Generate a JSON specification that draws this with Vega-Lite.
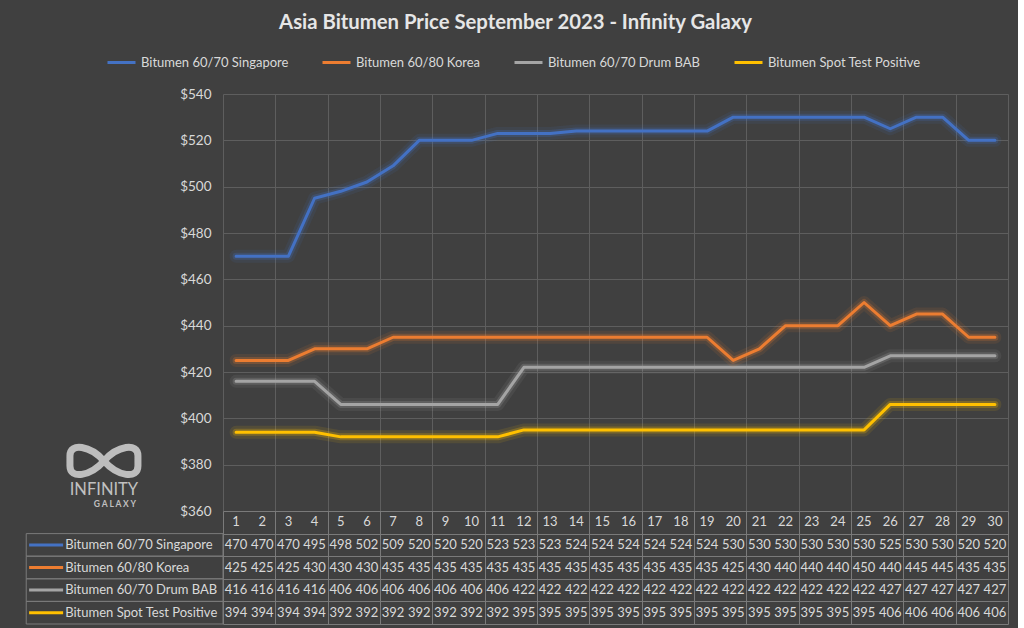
{
  "$schema": "https://vega.github.io/schema/vega-lite/v6.json",
  "background": "#404040",
  "padding": {"left": 23, "top": 12, "right": 10, "bottom": 4},
  "title": {"text": "Asia Bitumen Price September 2023 - Infinity Galaxy", "font": "Lato", "fontSize": 20.3, "fontWeight": "bold", "color": "#E6E6E6", "anchor": "middle", "offset": 14},
  "datasets": {
    "prices": [
      {"day": 1, "Bitumen 60/70 Singapore": 470, "Bitumen 60/80 Korea": 425, "Bitumen 60/70 Drum BAB": 416, "Bitumen Spot Test Positive": 394},
      {"day": 2, "Bitumen 60/70 Singapore": 470, "Bitumen 60/80 Korea": 425, "Bitumen 60/70 Drum BAB": 416, "Bitumen Spot Test Positive": 394},
      {"day": 3, "Bitumen 60/70 Singapore": 470, "Bitumen 60/80 Korea": 425, "Bitumen 60/70 Drum BAB": 416, "Bitumen Spot Test Positive": 394},
      {"day": 4, "Bitumen 60/70 Singapore": 495, "Bitumen 60/80 Korea": 430, "Bitumen 60/70 Drum BAB": 416, "Bitumen Spot Test Positive": 394},
      {"day": 5, "Bitumen 60/70 Singapore": 498, "Bitumen 60/80 Korea": 430, "Bitumen 60/70 Drum BAB": 406, "Bitumen Spot Test Positive": 392},
      {"day": 6, "Bitumen 60/70 Singapore": 502, "Bitumen 60/80 Korea": 430, "Bitumen 60/70 Drum BAB": 406, "Bitumen Spot Test Positive": 392},
      {"day": 7, "Bitumen 60/70 Singapore": 509, "Bitumen 60/80 Korea": 435, "Bitumen 60/70 Drum BAB": 406, "Bitumen Spot Test Positive": 392},
      {"day": 8, "Bitumen 60/70 Singapore": 520, "Bitumen 60/80 Korea": 435, "Bitumen 60/70 Drum BAB": 406, "Bitumen Spot Test Positive": 392},
      {"day": 9, "Bitumen 60/70 Singapore": 520, "Bitumen 60/80 Korea": 435, "Bitumen 60/70 Drum BAB": 406, "Bitumen Spot Test Positive": 392},
      {"day": 10, "Bitumen 60/70 Singapore": 520, "Bitumen 60/80 Korea": 435, "Bitumen 60/70 Drum BAB": 406, "Bitumen Spot Test Positive": 392},
      {"day": 11, "Bitumen 60/70 Singapore": 523, "Bitumen 60/80 Korea": 435, "Bitumen 60/70 Drum BAB": 406, "Bitumen Spot Test Positive": 392},
      {"day": 12, "Bitumen 60/70 Singapore": 523, "Bitumen 60/80 Korea": 435, "Bitumen 60/70 Drum BAB": 422, "Bitumen Spot Test Positive": 395},
      {"day": 13, "Bitumen 60/70 Singapore": 523, "Bitumen 60/80 Korea": 435, "Bitumen 60/70 Drum BAB": 422, "Bitumen Spot Test Positive": 395},
      {"day": 14, "Bitumen 60/70 Singapore": 524, "Bitumen 60/80 Korea": 435, "Bitumen 60/70 Drum BAB": 422, "Bitumen Spot Test Positive": 395},
      {"day": 15, "Bitumen 60/70 Singapore": 524, "Bitumen 60/80 Korea": 435, "Bitumen 60/70 Drum BAB": 422, "Bitumen Spot Test Positive": 395},
      {"day": 16, "Bitumen 60/70 Singapore": 524, "Bitumen 60/80 Korea": 435, "Bitumen 60/70 Drum BAB": 422, "Bitumen Spot Test Positive": 395},
      {"day": 17, "Bitumen 60/70 Singapore": 524, "Bitumen 60/80 Korea": 435, "Bitumen 60/70 Drum BAB": 422, "Bitumen Spot Test Positive": 395},
      {"day": 18, "Bitumen 60/70 Singapore": 524, "Bitumen 60/80 Korea": 435, "Bitumen 60/70 Drum BAB": 422, "Bitumen Spot Test Positive": 395},
      {"day": 19, "Bitumen 60/70 Singapore": 524, "Bitumen 60/80 Korea": 435, "Bitumen 60/70 Drum BAB": 422, "Bitumen Spot Test Positive": 395},
      {"day": 20, "Bitumen 60/70 Singapore": 530, "Bitumen 60/80 Korea": 425, "Bitumen 60/70 Drum BAB": 422, "Bitumen Spot Test Positive": 395},
      {"day": 21, "Bitumen 60/70 Singapore": 530, "Bitumen 60/80 Korea": 430, "Bitumen 60/70 Drum BAB": 422, "Bitumen Spot Test Positive": 395},
      {"day": 22, "Bitumen 60/70 Singapore": 530, "Bitumen 60/80 Korea": 440, "Bitumen 60/70 Drum BAB": 422, "Bitumen Spot Test Positive": 395},
      {"day": 23, "Bitumen 60/70 Singapore": 530, "Bitumen 60/80 Korea": 440, "Bitumen 60/70 Drum BAB": 422, "Bitumen Spot Test Positive": 395},
      {"day": 24, "Bitumen 60/70 Singapore": 530, "Bitumen 60/80 Korea": 440, "Bitumen 60/70 Drum BAB": 422, "Bitumen Spot Test Positive": 395},
      {"day": 25, "Bitumen 60/70 Singapore": 530, "Bitumen 60/80 Korea": 450, "Bitumen 60/70 Drum BAB": 422, "Bitumen Spot Test Positive": 395},
      {"day": 26, "Bitumen 60/70 Singapore": 525, "Bitumen 60/80 Korea": 440, "Bitumen 60/70 Drum BAB": 427, "Bitumen Spot Test Positive": 406},
      {"day": 27, "Bitumen 60/70 Singapore": 530, "Bitumen 60/80 Korea": 445, "Bitumen 60/70 Drum BAB": 427, "Bitumen Spot Test Positive": 406},
      {"day": 28, "Bitumen 60/70 Singapore": 530, "Bitumen 60/80 Korea": 445, "Bitumen 60/70 Drum BAB": 427, "Bitumen Spot Test Positive": 406},
      {"day": 29, "Bitumen 60/70 Singapore": 520, "Bitumen 60/80 Korea": 435, "Bitumen 60/70 Drum BAB": 427, "Bitumen Spot Test Positive": 406},
      {"day": 30, "Bitumen 60/70 Singapore": 520, "Bitumen 60/80 Korea": 435, "Bitumen 60/70 Drum BAB": 427, "Bitumen Spot Test Positive": 406}
    ]
  },
  "data": {"name": "prices"},
  "transform": [
    {"fold": ["Bitumen 60/70 Singapore", "Bitumen 60/80 Korea", "Bitumen 60/70 Drum BAB", "Bitumen Spot Test Positive"], "as": ["series", "price"]}
  ],
  "bounds": "flush",
  "spacing": 0,
  "vconcat": [
    {
      "width": 785,
      "height": 417,
      "layer": [
        {
          "mark": {"type": "line", "strokeWidth": 3, "strokeJoin": "round", "strokeCap": "round"},
          "encoding": {
            "x": {"field": "day", "type": "quantitative", "title": null,
                  "scale": {"domain": [0.5, 30.5], "nice": false, "zero": false},
                  "axis": {"values": [0.5,1.5,2.5,3.5,4.5,5.5,6.5,7.5,8.5,9.5,10.5,11.5,12.5,13.5,14.5,15.5,16.5,17.5,18.5,19.5,20.5,21.5,22.5,23.5,24.5,25.5,26.5,27.5,28.5,29.5,30.5], "grid": true, "labels": false, "ticks": false, "domain": false, "gridColor": "#5E5E5E"}},
            "y": {"field": "price", "type": "quantitative", "title": null,
                  "scale": {"domain": [360, 540], "nice": false, "zero": false},
                  "axis": {"values": [360,380,400,420,440,460,480,500,520,540], "format": "$.0f", "grid": true, "ticks": false, "domain": false, "labelPadding": 12, "gridColor": "#5E5E5E", "labelColor": "#D9D9D9", "labelFont": "Lato", "labelFontSize": 13.5}},
            "color": {"field": "series", "type": "nominal",
                      "scale": {"domain": ["Bitumen 60/70 Singapore", "Bitumen 60/80 Korea", "Bitumen 60/70 Drum BAB", "Bitumen Spot Test Positive"], "range": ["#4472C4", "#ED7D31", "#A5A5A5", "#FFC000"]},
                      "legend": {"orient": "none", "legendX": -117, "legendY": -47, "direction": "horizontal", "columns": 4, "gridAlign": "none", "title": null, "symbolType": "stroke", "symbolSize": 784, "symbolStrokeWidth": 3, "symbolOpacity": 1, "labelColor": "#D9D9D9", "labelFont": "Lato", "labelFontSize": 13, "columnPadding": 27, "labelOffset": 4,
                                 "encode": {"symbols": {"update": {"opacity": {"value": 1}, "strokeWidth": {"value": 3}}}}}}
          }
        },
        {
          "mark": {"type": "line", "strokeWidth": 7, "opacity": 0.24, "strokeJoin": "round", "strokeCap": "round"},
          "encoding": {
            "x": {"field": "day", "type": "quantitative", "title": null},
            "y": {"field": "price", "type": "quantitative", "title": null},
            "color": {"field": "series", "type": "nominal"}
          }
        },
        {
          "mark": {"type": "line", "strokeWidth": 13, "opacity": 0.1, "strokeJoin": "round", "strokeCap": "round"},
          "encoding": {
            "x": {"field": "day", "type": "quantitative", "title": null},
            "y": {"field": "price", "type": "quantitative", "title": null},
            "color": {"field": "series", "type": "nominal"}
          }
        },
        {
          "data": {"values": [{}]},
          "mark": {"type": "point", "shape": "M0,0C0.4,-0.45,1,-0.55,1,-0.15L1,0.15C1,0.55,0.4,0.45,0,0C-0.4,-0.45,-1,-0.55,-1,-0.15L-1,0.15C-1,0.55,-0.4,0.45,0,0Z", "filled": false, "size": 4624, "strokeWidth": 7, "color": "#BDBDBD", "opacity": 1},
          "encoding": {"x": {"datum": -4.05}, "y": {"datum": 381.6}}
        },
        {
          "data": {"values": [{}]},
          "mark": {"type": "text", "font": "Lato", "fontSize": 16.5, "color": "#C0C0C0", "align": "center", "baseline": "middle"},
          "encoding": {"x": {"datum": -4.05}, "y": {"datum": 368.85}, "text": {"value": "INFINITY"}}
        },
        {
          "data": {"values": [{}]},
          "mark": {"type": "text", "font": "Lato", "fontSize": 8.5, "fontWeight": "bold", "color": "#C0C0C0", "align": "center", "baseline": "middle"},
          "encoding": {"x": {"datum": -3.63}, "y": {"datum": 362.9}, "text": {"value": "G A L A X Y"}}
        }
      ]
    },
    {
      "width": 785,
      "height": 113,
      "encoding": {
        "y": {"type": "nominal", "title": null,
              "scale": {"domain": ["Day", "Bitumen 60/70 Singapore", "Bitumen 60/80 Korea", "Bitumen 60/70 Drum BAB", "Bitumen Spot Test Positive"], "paddingInner": 0, "paddingOuter": 0},
              "axis": {"grid": true, "tickBand": "extent", "labels": false, "ticks": false, "domain": false, "gridColor": "#7A7A7A"}}
      },
      "layer": [
        {
          "transform": [{"filter": "datum.day == 1"}],
          "mark": {"type": "rect", "fill": "transparent", "stroke": "#7A7A7A", "strokeWidth": 1},
          "encoding": {
            "x": {"datum": -7.02, "type": "quantitative", "title": null,
                  "scale": {"domain": [0.5, 30.5], "nice": false, "zero": false},
                  "axis": {"values": [0.5,1.5,2.5,3.5,4.5,5.5,6.5,7.5,8.5,9.5,10.5,11.5,12.5,13.5,14.5,15.5,16.5,17.5,18.5,19.5,20.5,21.5,22.5,23.5,24.5,25.5,26.5,27.5,28.5,29.5,30.5], "grid": true, "labels": false, "ticks": false, "domain": false, "gridColor": "#7A7A7A"}},
            "x2": {"datum": 0.5},
            "y": {"field": "series"}
          }
        },
        {
          "transform": [{"filter": "datum.day == 1"}],
          "mark": {"type": "point", "shape": "stroke", "filled": false, "size": 1156, "strokeWidth": 3, "opacity": 1},
          "encoding": {
            "x": {"datum": -6.26, "type": "quantitative", "title": null},
            "y": {"field": "series"},
            "color": {"field": "series", "type": "nominal"}
          }
        },
        {
          "transform": [{"filter": "datum.day == 1"}],
          "mark": {"type": "text", "align": "left", "baseline": "middle", "font": "Lato", "fontSize": 13, "color": "#D9D9D9"},
          "encoding": {
            "x": {"datum": -5.53, "type": "quantitative", "title": null},
            "y": {"field": "series"},
            "text": {"field": "series"}
          }
        },
        {
          "transform": [{"filter": "datum.series == 'Bitumen 60/70 Singapore'"}],
          "mark": {"type": "text", "align": "center", "baseline": "middle", "font": "Lato", "fontSize": 13, "color": "#D9D9D9"},
          "encoding": {
            "x": {"field": "day", "type": "quantitative", "title": null},
            "y": {"datum": "Day"},
            "text": {"field": "day"}
          }
        },
        {
          "mark": {"type": "text", "align": "center", "baseline": "middle", "font": "Lato", "fontSize": 13, "color": "#D9D9D9"},
          "encoding": {
            "x": {"field": "day", "type": "quantitative", "title": null},
            "y": {"field": "series"},
            "text": {"field": "price"}
          }
        }
      ]
    }
  ],
  "config": {
    "view": {"stroke": null},
    "axis": {"labelFont": "Lato"}
  }
}
